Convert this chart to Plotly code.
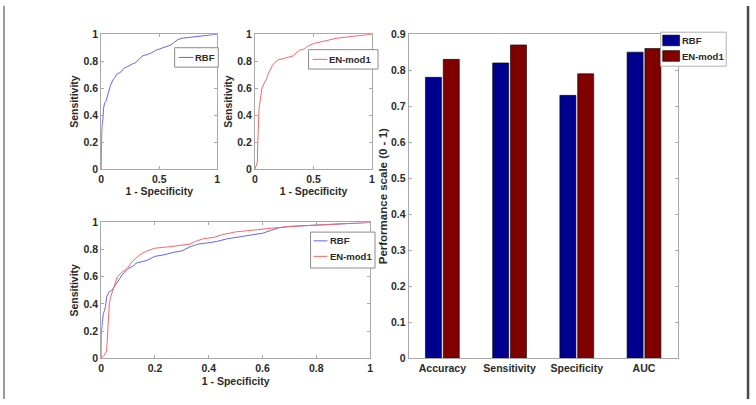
import plotly.graph_objects as go

W, H = 756, 405


def fx(p):
    return p / W


def fy(p):
    return 1 - p / H


# ---------------- data ----------------
rbf_fpr = [0.0, 0.0, 0.004, 0.008, 0.012, 0.016, 0.02, 0.025, 0.03, 0.04, 0.05, 0.06,
           0.07, 0.08, 0.1, 0.12, 0.13, 0.15, 0.17, 0.2, 0.23, 0.27, 0.3, 0.33,
           0.36, 0.4, 0.43, 0.47, 0.5, 0.53, 0.57, 0.6, 0.63, 0.66, 0.7, 0.75,
           0.8, 0.85, 0.9, 0.95, 1.0]
rbf_tpr = [0.0, 0.17, 0.26, 0.33, 0.35, 0.38, 0.45, 0.47, 0.49, 0.5, 0.53, 0.57,
           0.6, 0.62, 0.66, 0.68, 0.7, 0.71, 0.72, 0.75, 0.76, 0.78, 0.79, 0.82,
           0.84, 0.85, 0.86, 0.88, 0.89, 0.9, 0.91, 0.92, 0.94, 0.96, 0.97, 0.975,
           0.98, 0.99, 0.995, 1.0, 1.0]

en_fpr = [0.0, 0.01, 0.02, 0.024, 0.027, 0.03, 0.035, 0.04, 0.05, 0.06, 0.075,
          0.09, 0.1, 0.11, 0.13, 0.15, 0.17, 0.2, 0.25, 0.3, 0.33, 0.35, 0.38,
          0.42, 0.45, 0.5, 0.55, 0.6, 0.65, 0.7, 0.8, 0.9, 1.0]
en_tpr = [0.0, 0.02, 0.05, 0.2, 0.3, 0.4, 0.45, 0.48, 0.55, 0.6, 0.63,
          0.65, 0.67, 0.7, 0.74, 0.77, 0.79, 0.81, 0.82, 0.83, 0.84, 0.86, 0.88,
          0.89, 0.91, 0.93, 0.94, 0.95, 0.96, 0.97, 0.98, 0.99, 1.0]

categories = ["Accuracy", "Sensitivity", "Specificity", "AUC"]
rbf_scores = [0.78, 0.82, 0.73, 0.85]
en_scores = [0.83, 0.87, 0.79, 0.86]

series_names = ["RBF", "EN-mod1"]

roc_ticks_small = [0, 0.5, 1]
roc_ticks_small_text = ["0", "0.5", "1"]
roc_ticks = [0, 0.2, 0.4, 0.6, 0.8, 1]
roc_ticks_text = ["0", "0.2", "0.4", "0.6", "0.8", "1"]
bar_ticks = [0, 0.1, 0.2, 0.3, 0.4, 0.5, 0.6, 0.7, 0.8, 0.9]
bar_ticks_text = ["0", "0.1", "0.2", "0.3", "0.4", "0.5", "0.6", "0.7", "0.8", "0.9"]

# ---------------- styles ----------------
FONT = "Liberation Sans Narrow, Arial Narrow, Liberation Sans, Arial, sans-serif"
LINE_BLUE = "#6464ff"
LINE_RED = "#ff6464"
BAR_BLUE = "#00008f"
BAR_RED = "#800000"
AXIS_GRAY = "#a8a8a8"
LEG_BORDER = "#8a8a8a"
TEXT = "#2a2a2a"

fig = go.Figure()

fig.add_trace(go.Scatter(x=rbf_fpr, y=rbf_tpr, mode="lines", name=series_names[0],
                         line=dict(color=LINE_BLUE, width=1),
                         xaxis="x", yaxis="y", showlegend=False))
fig.add_trace(go.Scatter(x=en_fpr, y=en_tpr, mode="lines", name=series_names[1],
                         line=dict(color=LINE_RED, width=1),
                         xaxis="x2", yaxis="y2", showlegend=False))
fig.add_trace(go.Scatter(x=rbf_fpr, y=rbf_tpr, mode="lines", name=series_names[0],
                         line=dict(color=LINE_BLUE, width=1),
                         xaxis="x3", yaxis="y3", showlegend=False))
fig.add_trace(go.Scatter(x=en_fpr, y=en_tpr, mode="lines", name=series_names[1],
                         line=dict(color=LINE_RED, width=1),
                         xaxis="x3", yaxis="y3", showlegend=False))
fig.add_trace(go.Bar(x=categories, y=rbf_scores, name=series_names[0],
                     marker=dict(color=BAR_BLUE, line=dict(color="#000000", width=0.6)),
                     xaxis="x4", yaxis="y4", showlegend=False))
fig.add_trace(go.Bar(x=categories, y=en_scores, name=series_names[1],
                     marker=dict(color=BAR_RED, line=dict(color="#000000", width=0.6)),
                     xaxis="x4", yaxis="y4", showlegend=False))


def axis(domain, anchor, tickvals, ticktext, rng, title=None, standoff=None, title_size=10.5):
    d = dict(domain=domain, anchor=anchor, range=rng,
             tickmode="array", tickvals=tickvals, ticktext=ticktext,
             showline=True, linecolor=AXIS_GRAY, linewidth=1, mirror="ticks",
             ticks="inside", ticklen=3, tickcolor=AXIS_GRAY,
             showgrid=False, zeroline=False,
             tickfont=dict(size=10.5, color=TEXT, family=FONT, weight="bold"))
    if title:
        d["title"] = dict(text=title, font=dict(size=title_size, color=TEXT, family=FONT, weight="bold"))
        if standoff is not None:
            d["title"]["standoff"] = standoff
    return d


A_x = [fx(99), fx(216)]
A_y = [fy(168), fy(29)]
B_x = [fx(254), fx(372)]
C_x = [fx(99), fx(370)]
C_y = [fy(363), fy(223)]
D_x = [fx(409), fx(680)]
D_y = [fy(363), fy(29)]

# ---------------- legend boxes (MATLAB style) ----------------
shapes = []
annotations = []


def legend_box(x0, y0, x1, y1, border=LEG_BORDER):
    shapes.append(dict(type="rect", xref="paper", yref="paper",
                       x0=fx(x0), x1=fx(x1), y0=fy(y1), y1=fy(y0),
                       fillcolor="#ffffff", line=dict(color=border, width=1), layer="above"))


def legend_line(x0, x1, y, color):
    shapes.append(dict(type="line", xref="paper", yref="paper",
                       x0=fx(x0), x1=fx(x1), y0=fy(y), y1=fy(y),
                       line=dict(color=color, width=1), layer="above"))


def legend_swatch(x0, y0, x1, y1, color):
    shapes.append(dict(type="rect", xref="paper", yref="paper",
                       x0=fx(x0), x1=fx(x1), y0=fy(y1), y1=fy(y0),
                       fillcolor=color, line=dict(color="#000000", width=0.6), layer="above"))


def legend_text(x, y, text):
    annotations.append(dict(xref="paper", yref="paper", x=fx(x), y=fy(y),
                            xanchor="left", yanchor="middle", showarrow=False, text=text,
                            borderpad=0,
                            font=dict(size=9.5, color=TEXT, family=FONT, weight="bold")))


# top-left (RBF)
legend_box(173, 43, 217, 63)
legend_line(177, 192, 53, LINE_BLUE)
legend_text(193, 53, series_names[0])
# top-middle (EN-mod1)
legend_box(308, 45, 378, 65)
legend_line(312, 327, 55, LINE_RED)
legend_text(328, 55, series_names[1])
# bottom (both)
legend_box(310, 233, 375, 270)
legend_line(313, 327, 242, LINE_BLUE)
legend_text(329, 242, series_names[0])
legend_line(313, 327, 258, LINE_RED)
legend_text(329, 258, series_names[1])
# bar chart
legend_box(663, 27, 729, 62, border="#b0b0b0")
legend_swatch(665, 30, 682, 41, BAR_BLUE)
legend_text(683, 36, series_names[0])
legend_swatch(665, 46, 682, 57, BAR_RED)
legend_text(683, 52, series_names[1])

# outer frame lines
shapes.append(dict(type="line", xref="paper", yref="paper", x0=fx(1), x1=fx(1), y0=0, y1=1,
                   line=dict(color="#9a9a9a", width=2)))
shapes.append(dict(type="line", xref="paper", yref="paper", x0=fx(751), x1=fx(751), y0=0, y1=1,
                   line=dict(color="#4a4a4a", width=2.5)))

fig.update_layout(
    width=W, height=H,
    margin=dict(l=0, r=0, t=0, b=0),
    paper_bgcolor="#ffffff", plot_bgcolor="#ffffff",
    font=dict(family=FONT, color=TEXT, weight="bold"),
    showlegend=False,
    bargap=0.47, bargroupgap=0.1, barmode="group",
    xaxis=axis(A_x, "y", roc_ticks_small, roc_ticks_small_text, [0, 1], "1 - Specificity", 4),
    yaxis=axis(A_y, "x", roc_ticks, roc_ticks_text, [0, 1], "Sensitivity", 2),
    xaxis2=axis(B_x, "y2", roc_ticks_small, roc_ticks_small_text, [0, 1], "1 - Specificity", 4),
    yaxis2=axis(A_y, "x2", roc_ticks, roc_ticks_text, [0, 1], "Sensitivity", 2),
    xaxis3=axis(C_x, "y3", roc_ticks, roc_ticks_text, [0, 1], "1 - Specificity", 4),
    yaxis3=axis(C_y, "x3", roc_ticks, roc_ticks_text, [0, 1], "Sensitivity", 2),
    xaxis4=dict(axis(D_x, "y4", None, None, [-0.5, 3.5]), tickmode="auto", ticks="",
                tickfont=dict(size=10.5, color=TEXT, family=FONT, weight="bold")),
    yaxis4=axis(D_y, "x4", bar_ticks, bar_ticks_text, [0, 0.9], "Performance scale (0 - 1)", 1,
                title_size=11.5),
    shapes=shapes,
    annotations=annotations,
)

fig.write_html("out.html")
